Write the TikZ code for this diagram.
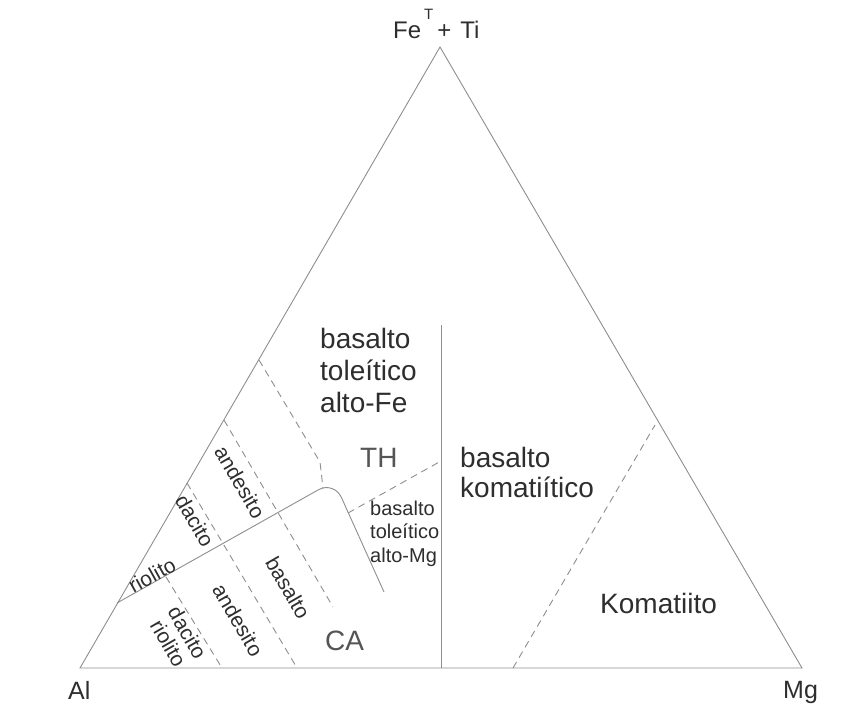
\documentclass[tikz,border=0pt]{standalone}
\usepackage{fontspec}
\setmainfont{Liberation Sans}
\definecolor{edgegray}{HTML}{8E8E8E}
\definecolor{txt}{HTML}{2E2E2E}
\definecolor{txtlight}{HTML}{555555}
\begin{document}
\begin{tikzpicture}[x=1pt,y=-1pt,
  edgeline/.style={draw=edgegray,line width=0.9pt},
  dashline/.style={draw=edgegray,line width=0.9pt,dash pattern=on 7pt off 5pt},
  big/.style={text=txt,inner sep=0pt,font=\fontsize{28}{32}\selectfont},
  mid/.style={text=txt,inner sep=0pt,font=\fontsize{20}{23.5}\selectfont,align=left},
  rotlabel/.style={text=txt,inner sep=0pt,font=\fontsize{21}{22}\selectfont,align=center},
  vtx/.style={text=txt,inner sep=0pt,anchor=base west}]
\useasboundingbox (0,0) rectangle (864,704);
\fill[white] (0,0) rectangle (864,704);

% vertices
\coordinate (Al) at (80,668);
\coordinate (Mg) at (802,668);
\coordinate (Top) at (440,47);
\draw[edgeline] (Al) -- (Top) -- (Mg) -- cycle;

% solid TH/CA boundary
\coordinate (s1) at (117,603);
\coordinate (s2) at (334,481);
\coordinate (s3) at (384,592);
\draw[edgeline,rounded corners=18pt] (s1) -- (s2) -- (s3);

% vertical line
\coordinate (v1) at (441,325);
\coordinate (v2) at (441,668);
\draw[edgeline] (v1) -- (v2);

% dashed lines
\coordinate (a1) at (259,360);
\coordinate (a2) at (320,462);
\coordinate (a3) at (323,488);
\draw[dashline] (a1) -- (a2) -- (a3);
\coordinate (b1) at (224,420);
\coordinate (b2) at (333,607);
\draw[dashline] (b1) -- (b2);
\coordinate (c1) at (187,483);
\coordinate (c2) at (297,668);
\draw[dashline] (c1) -- (c2);
\coordinate (d1) at (166,577);
\coordinate (d2) at (222,668);
\draw[dashline] (d1) -- (d2);
\coordinate (e1) at (348,513);
\coordinate (e2) at (441,461);
\draw[dashline] (e1) -- (e2);
\coordinate (k1) at (513,668);
\coordinate (k2) at (655,425);
\draw[dashline] (k1) -- (k2);

% vertex labels
\node[vtx,font=\fontsize{24}{24}\selectfont] (fe) at (393,38)
  {Fe\hspace{3pt}\raisebox{19pt}{\fontsize{15}{15}\selectfont T}\hspace{4pt}+\hspace{9pt}Ti};
\node[vtx,font=\fontsize{25}{25}\selectfont] (al) at (68,699) {Al};
\node[vtx,font=\fontsize{25}{25}\selectfont] (mg) at (783,698) {Mg};

% field labels
\node[big,align=left,anchor=north west] (btf) at (320,328) {basalto\\toleítico\\alto-Fe};
\node[big,anchor=base west,text=txtlight] (th) at (360,467) {TH};
\node[big,align=left,anchor=north west,font=\fontsize{28}{30}\selectfont] (bk) at (460,447) {basalto\\komatiítico};
\node[big,anchor=base west] (kom) at (600,613) {Komatiito};
\node[big,anchor=base west,text=txtlight] (ca) at (325,650) {CA};
\node[mid,anchor=north west] (btm) at (370,500.5) {basalto\\toleítico\\alto-Mg};

% rotated labels
\node[rotlabel,rotate=-60] (and1) at (240,482) {andesito};
\node[rotlabel,rotate=-60] (dac1) at (195,521) {dacito};
\node[rotlabel,rotate=29] (rio1) at (152,575) {riolito};
\node[rotlabel,rotate=-60] (and2) at (238,620) {andesito};
\node[rotlabel,rotate=-60] (bas2) at (288,588) {basalto};
\node[rotlabel,rotate=-60] (dr2) at (178,638) {dacito\\riolito};
\end{tikzpicture}
\end{document}
